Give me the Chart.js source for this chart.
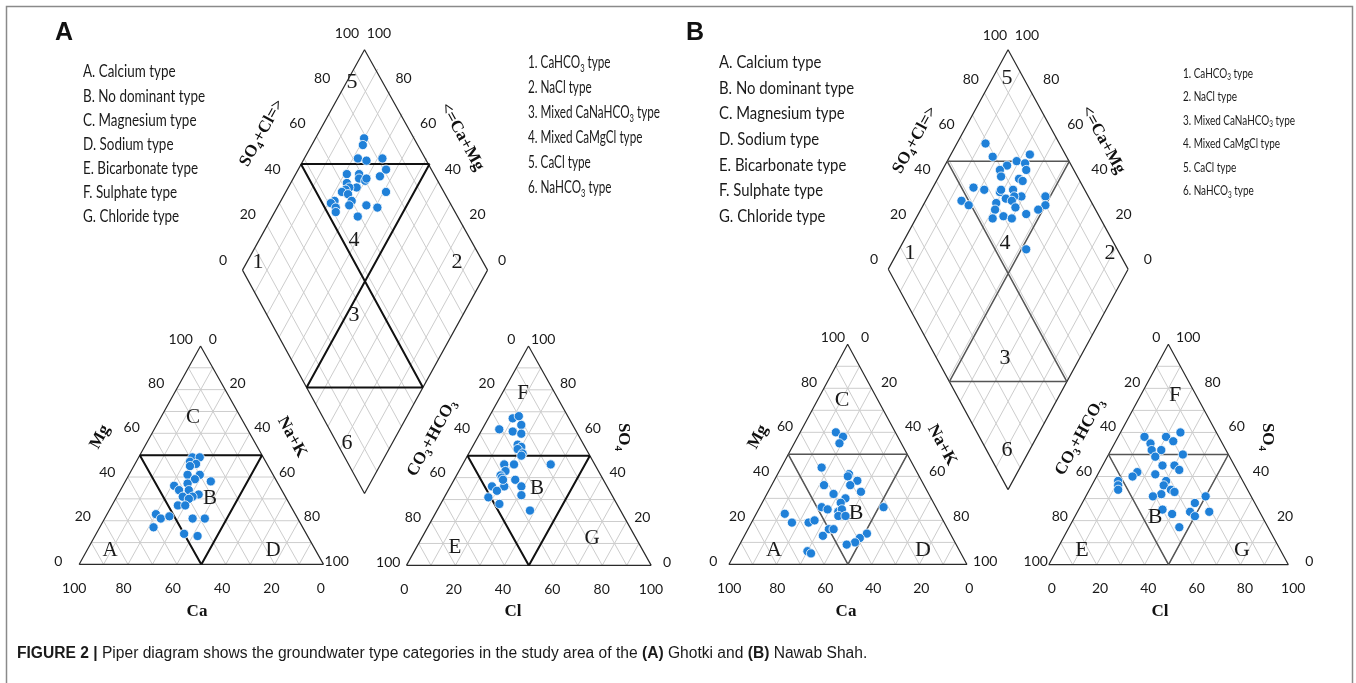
<!DOCTYPE html>
<html>
<head>
<meta charset="utf-8">
<title>Piper diagram</title>
<script src="https://cdn.jsdelivr.net/npm/chart.js@4.4.1/dist/chart.umd.min.js"></script>
<style>
  html, body { margin: 0; padding: 0; background: #fff; }
  canvas { display: block; }
</style>
</head>
<body>
<canvas id="piper" width="1356" height="683"></canvas>
<script>
// ---- values (percent) ----
// A: Ghotki
const ghotkiCa  = [29, 26, 31, 29, 32, 35, 30, 33, 37, 27, 43, 42, 38, 35, 42, 38, 40, 46, 43, 57, 56, 52, 43, 38, 61, 50, 45];
const ghotkiMg  = [49, 49, 47, 46, 45, 41, 41, 39, 37, 38, 36, 34, 34, 32, 31, 31, 30, 27, 27, 23, 21, 22, 21, 21, 17, 14, 13];
const ghotkiCl  = [10, 12, 15, 7, 13, 17, 18, 20, 19, 22, 22, 21, 17, 36, 19, 18, 19, 25, 22, 29, 17, 20, 18, 31, 24, 38, 20];
const ghotkiSO4 = [67, 68, 64, 62, 61, 60, 55, 54, 53, 51, 50, 46, 46, 46, 43, 41, 40, 39, 36, 36, 36, 34, 31, 32, 28, 25, 39];
const ghotkiSO4Cl = [79, 77, 72, 75, 82, 81, 77, 64, 69, 68, 70, 71, 62, 65, 62, 60, 58, 60, 76, 60, 53, 51, 52, 58, 65, 69, 51, 59];
const ghotkiCaMg  = [80, 79, 78, 74, 68, 64, 65, 79, 74, 73, 70, 70, 77, 72, 75, 76, 77, 74, 59, 71, 78, 79, 76, 71, 64, 59, 75, 65];

// B: Nawab Shah
const nawabCa  = [25, 23, 26, 39, 29, 30, 27, 31, 42, 28, 40, 36, 39, 48, 46, 42, 40, 43, 40, 22, 65, 64, 57, 54, 50, 48, 54, 35, 39, 42, 46, 64, 63];
const nawabMg  = [60, 58, 55, 44, 41, 40, 38, 36, 36, 33, 32, 30, 28, 26, 25, 24, 25, 22, 22, 26, 23, 19, 19, 20, 16, 16, 13, 14, 12, 10, 9, 6, 5];
const nawabCl  = [25, 11, 20, 24, 15, 17, 21, 31, 20, 25, 30, 33, 16, 15, 24, 10, 11, 12, 30, 30, 34, 36, 31, 28, 50, 47, 35, 40, 47, 50, 55, 46];
const nawabSO4 = [60, 58, 58, 56, 55, 52, 52, 50, 49, 45, 45, 43, 42, 40, 41, 38, 36, 34, 38, 36, 34, 33, 32, 31, 31, 28, 25, 23, 24, 22, 24, 17];
const nawabSO4Cl = [69, 69, 85, 73, 78, 81, 69, 80, 68, 75, 76, 54, 58, 64, 65, 70, 72, 65, 69, 46, 48, 60, 67, 82, 80, 76, 67, 58, 70, 60, 55, 63, 62];
const nawabCaMg  = [88, 82, 67, 74, 71, 67, 76, 65, 74, 66, 64, 83, 78, 71, 71, 66, 61, 67, 64, 85, 81, 70, 64, 51, 49, 51, 61, 69, 55, 64, 68, 60, 47];

const tickValues = [0, 20, 40, 60, 80, 100];
const gridSteps = [10, 20, 30, 40, 50, 60, 70, 80, 90];

const waterTypesA = ["A. Calcium type", "B. No dominant type", "C. Magnesium type", "D. Sodium type",
  "E. Bicarbonate type", "F. Sulphate type", "G. Chloride type"];
const diamondTypes = ["1. CaHCO_3 type", "2. NaCl type", "3. Mixed CaNaHCO_3 type", "4. Mixed CaMgCl type",
  "5. CaCl type", "6. NaHCO_3 type"];

// ---- layout (pixels) ----
const layoutA = {
  cation: { bl: [74.3, 568], br: [320.7, 568], top: [196.7, 346] },
  anion: { bl: [404.3, 569], br: [651, 569], top: [527.3, 346] },
  diamond: { top: [362, 45], left: [239, 269], right: [486, 269], bottom: [362, 496] },
  diamondSplit: 0.475,
  zoneColor: "#111", zoneWidth: 2,
  letterSize: 21,
  cationLetters: { C: [193, 417], B: [210, 498], A: [110, 550], D: [273, 550] },
  anionLetters: { F: [523, 393], B: [537, 488], E: [455, 547], G: [592, 538] },
  diamondNums: { 5: [352, 82], 4: [354, 240], 1: [258, 262], 2: [457, 262], 3: [354, 315], 6: [347, 443] },
  titles: {
    so4cl: [262, 133], camg: [462, 137], mg: [100, 437], nak: [292, 437], ca: [197, 612],
    co3: [432, 438], so4: [623, 437], cl: [513, 612]
  },
  panel: [55, 33],
  legendLeft: { x: 83, y: 72, step: 24.1, size: 17, width: 122 },
  legendRight: { x: 528, y: 63, step: 25, size: 17, width: 132 }
};
const layoutB = {
  cation: { bl: [729.3, 568], br: [969.3, 568], top: [849, 344.3] },
  anion: { bl: [1051.7, 568.3], br: [1293.3, 568.3], top: [1172.3, 344.3] },
  diamond: { top: [1010.7, 45], left: [890, 268], right: [1131.7, 268], bottom: [1010.7, 492] },
  diamondSplit: 0.49,
  zoneColor: "#555", zoneWidth: 1.5,
  letterSize: 22,
  cationLetters: { C: [842, 400], B: [856, 513], A: [774, 550], D: [923, 550] },
  anionLetters: { F: [1175, 395], B: [1155, 517], E: [1082, 550], G: [1242, 550] },
  diamondNums: { 5: [1007, 78], 4: [1005, 243], 1: [910, 253], 2: [1110, 253], 3: [1005, 358], 6: [1007, 450] },
  titles: {
    so4cl: [915, 140], camg: [1103, 140], mg: [758, 437], nak: [942, 445], ca: [846, 612],
    co3: [1080, 437], so4: [1267, 437], cl: [1160, 612]
  },
  panel: [686, 33],
  legendLeft: { x: 719, y: 62, step: 25.7, size: 18, width: 135 },
  legendRight: { x: 1183, y: 73, step: 23.5, size: 14, width: 112 }
};

const pointColor = "#1f80d8";

// ---- geometry helpers ----
function tern(tri, r, up) {
  return [
    tri.bl[0] + r * (tri.br[0] - tri.bl[0]) + up * (tri.top[0] - tri.bl[0]),
    tri.bl[1] + r * (tri.br[1] - tri.bl[1]) + up * (tri.top[1] - tri.bl[1])
  ];
}
function dia(d, a, k) {
  return [
    d.bottom[0] + a * (d.right[0] - d.bottom[0]) + k * (d.left[0] - d.bottom[0]),
    d.bottom[1] + a * (d.right[1] - d.bottom[1]) + k * (d.left[1] - d.bottom[1])
  ];
}
function segData(pairs) {
  const out = [];
  pairs.forEach(([p, q]) => {
    out.push({ x: p[0], y: p[1] }, { x: q[0], y: q[1] }, { x: q[0], y: null });
  });
  return out;
}

function triGrid(tri) {
  const s = [];
  gridSteps.forEach(v => {
    const f = v / 100;
    s.push([tern(tri, 0, f), tern(tri, 1 - f, f)]);
    s.push([tern(tri, f, 0), tern(tri, f, 1 - f)]);
    s.push([tern(tri, 1 - f, 0), tern(tri, 0, 1 - f)]);
  });
  return s;
}
function triOutline(tri) {
  return [[tri.bl, tri.br], [tri.br, tri.top], [tri.top, tri.bl]];
}
function triZones(tri) {
  return [
    [tern(tri, 0, 0.5), tern(tri, 0.5, 0.5)],
    [tern(tri, 0, 0.5), tern(tri, 0.5, 0)],
    [tern(tri, 0.5, 0.5), tern(tri, 0.5, 0)]
  ];
}
function diaGrid(d) {
  const s = [];
  gridSteps.forEach(v => {
    const f = v / 100;
    s.push([dia(d, f, 0), dia(d, f, 1)]);
    s.push([dia(d, 0, f), dia(d, 1, f)]);
  });
  return s;
}
function diaOutline(d) {
  return [[d.bottom, d.right], [d.right, d.top], [d.top, d.left], [d.left, d.bottom]];
}
function diaZones(d, f) {
  return [
    [dia(d, f, 1), dia(d, 1, f)],
    [dia(d, 0, f), dia(d, f, 0)],
    [dia(d, f, 1), dia(d, f, 0)],
    [dia(d, 1, f), dia(d, 0, f)]
  ];
}

function cationPoints(L, ca, mg) {
  return ca.map((c, i) => {
    const p = tern(L.cation, (100 - c - mg[i]) / 100, mg[i] / 100);
    return { x: p[0], y: p[1] };
  });
}
function anionPoints(L, cl, so4) {
  return cl.map((c, i) => {
    const p = tern(L.anion, c / 100, so4[i] / 100);
    return { x: p[0], y: p[1] };
  });
}
function diamondPoints(L, a, k) {
  return a.map((v, i) => {
    const p = dia(L.diamond, v / 100, k[i] / 100);
    return { x: p[0], y: p[1] };
  });
}

function panelDatasets(L, series) {
  const grid = [...triGrid(L.cation), ...triGrid(L.anion), ...diaGrid(L.diamond)];
  const outline = [...triOutline(L.cation), ...triOutline(L.anion), ...diaOutline(L.diamond)];
  const zones = [...triZones(L.cation), ...triZones(L.anion), ...diaZones(L.diamond, L.diamondSplit)];
  const lineDs = (data, color, width, order) => ({
    data: segData(data), showLine: true, borderColor: color, borderWidth: width,
    pointRadius: 0, spanGaps: false, order: order, clip: false
  });
  const ptDs = data => ({
    data: data, pointRadius: 4.6, pointBackgroundColor: pointColor,
    pointBorderColor: "#ffffff", pointBorderWidth: 0.8, showLine: false, order: 0, clip: false
  });
  return [
    ptDs(cationPoints(L, series.ca, series.mg)),
    ptDs(anionPoints(L, series.cl, series.so4)),
    ptDs(diamondPoints(L, series.so4cl, series.camg)),
    lineDs(zones, L.zoneColor, L.zoneWidth, 1),
    lineDs(outline, "#2a2a2a", 1.2, 2),
    lineDs(grid, "#cdcdcd", 1, 3)
  ];
}

// ---- text drawing ----
function richParts(str) {
  const parts = [];
  let buf = "";
  for (let i = 0; i < str.length; i++) {
    if (str[i] === "_" && i + 1 < str.length) {
      if (buf) parts.push({ t: buf, sub: false });
      buf = "";
      parts.push({ t: str[i + 1], sub: true });
      i++;
    } else buf += str[i];
  }
  if (buf) parts.push({ t: buf, sub: false });
  return parts;
}
function measureRich(ctx, str, o) {
  const parts = richParts(str);
  const main = `${o.weight || "normal"} ${o.size}px ${o.family}`;
  const sub = `${o.weight || "normal"} ${Math.round(o.size * 0.62)}px ${o.family}`;
  let w = 0;
  parts.forEach(p => { ctx.font = p.sub ? sub : main; p.w = ctx.measureText(p.t).width; p.font = ctx.font; w += p.w; });
  return { parts, w };
}
function drawRich(ctx, str, X, Y, o) {
  ctx.save();
  const m = measureRich(ctx, str, o);
  ctx.translate(X, Y);
  if (o.rot) ctx.rotate(o.rot * Math.PI / 180);
  const sx = o.sx || 1;
  ctx.scale(sx, 1);
  let cx = o.align === "center" ? -m.w / 2 : (o.align === "right" ? -m.w : 0);
  ctx.fillStyle = o.color || "#1a1a1a";
  ctx.textBaseline = "middle";
  ctx.textAlign = "left";
  m.parts.forEach(p => {
    ctx.font = p.font;
    ctx.fillText(p.t, cx, p.sub ? o.size * 0.3 : 0);
    cx += p.w;
  });
  ctx.restore();
}

const SANS = '"Lato", "Open Sans", sans-serif';
const SERIF = '"Liberation Serif", "DejaVu Serif", serif';

function drawPanelText(ctx, L) {
  const num = { size: 14, family: SANS, align: "center", color: "#1a1a1a" };
  // diamond ticks on the two upper edges
  tickValues.forEach(v => {
    const pl = dia(L.diamond, v / 100, 1);
    drawRich(ctx, String(v), pl[0] - 16, pl[1] - 9, num);
    const pr = dia(L.diamond, 1, v / 100);
    drawRich(ctx, String(v), pr[0] + 16, pr[1] - 9, num);
  });
  // cation ticks
  tickValues.forEach(v => {
    const f = v / 100;
    const pl = tern(L.cation, 0, f);
    drawRich(ctx, String(v), pl[0] - 16, pl[1] - 7, num);
    const pr = tern(L.cation, f, 1 - f);
    drawRich(ctx, String(v), pr[0] + 16, pr[1] - 7, num);
    const pb = tern(L.cation, 1 - f, 0);
    drawRich(ctx, String(v), pb[0], pb[1] + 20, num);
  });
  // anion ticks
  tickValues.forEach(v => {
    const f = v / 100;
    const pl = tern(L.anion, 0, 1 - f);
    drawRich(ctx, String(v), pl[0] - 16, pl[1] - 7, num);
    const pr = tern(L.anion, 1 - f, f);
    drawRich(ctx, String(v), pr[0] + 16, pr[1] - 7, num);
    const pb = tern(L.anion, f, 0);
    drawRich(ctx, String(v), pb[0], pb[1] + 20, num);
  });

  const letter = { size: L.letterSize, family: SERIF, align: "center", color: "#1a1a1a" };
  Object.entries(L.cationLetters).forEach(([t, p]) => drawRich(ctx, t, p[0], p[1], letter));
  Object.entries(L.anionLetters).forEach(([t, p]) => drawRich(ctx, t, p[0], p[1], letter));
  Object.entries(L.diamondNums).forEach(([t, p]) => drawRich(ctx, t, p[0], p[1], { ...letter, size: 22 }));

  const ttl = { size: 17, family: SERIF, weight: "bold", align: "center", color: "#111" };
  const T = L.titles;
  drawRich(ctx, "SO_4+Cl=>", T.so4cl[0], T.so4cl[1], { ...ttl, rot: -61 });
  drawRich(ctx, "<=Ca+Mg", T.camg[0], T.camg[1], { ...ttl, rot: 61 });
  drawRich(ctx, "Mg", T.mg[0], T.mg[1], { ...ttl, rot: -61 });
  drawRich(ctx, "Na+K", T.nak[0], T.nak[1], { ...ttl, rot: 61 });
  drawRich(ctx, "Ca", T.ca[0], T.ca[1], ttl);
  drawRich(ctx, "CO_3+HCO_3", T.co3[0], T.co3[1], { ...ttl, rot: -61 });
  drawRich(ctx, "SO_4", T.so4[0], T.so4[1], { ...ttl, rot: 90 });
  drawRich(ctx, "Cl", T.cl[0], T.cl[1], ttl);

  // legends, squeezed to the narrow face of the original
  const legend = (items, cfg, ref) => {
    const o = { size: cfg.size, family: SANS, align: "left", color: "#1a1a1a" };
    const sx = cfg.width / measureRich(ctx, ref, o).w;
    items.forEach((t, i) => drawRich(ctx, t, cfg.x, cfg.y + i * cfg.step, { ...o, sx }));
  };
  legend(waterTypesA, L.legendLeft, waterTypesA[1]);
  legend(diamondTypes, L.legendRight, diamondTypes[2]);

  ctx.save();
  ctx.font = 'bold 25px "Liberation Sans", Arial, sans-serif';
  ctx.fillStyle = "#111";
  ctx.textBaseline = "middle";
  ctx.fillText(L === layoutA ? "A" : "B", L.panel[0], L.panel[1]);
  ctx.restore();
}

function drawCaption(ctx) {
  const runs = [
    ["FIGURE 2 | ", true], ["Piper diagram shows the groundwater type categories in the study area of the ", false],
    ["(A)", true], [" Ghotki and ", false], ["(B)", true], [" Nawab Shah.", false]
  ];
  ctx.save();
  ctx.textBaseline = "middle";
  ctx.fillStyle = "#1a1a1a";
  let x = 17;
  runs.forEach(([t, b]) => {
    ctx.font = `${b ? "bold " : ""}15.6px "Liberation Sans", Arial, sans-serif`;
    ctx.fillText(t, x, 654);
    x += ctx.measureText(t).width;
  });
  ctx.restore();
}

const textPlugin = {
  id: "piperText",
  beforeDraw(chart) {
    const ctx = chart.ctx;
    ctx.save();
    ctx.fillStyle = "#fff";
    ctx.fillRect(0, 0, chart.width, chart.height);
    ctx.strokeStyle = "#8a8a8a";
    ctx.lineWidth = 1.5;
    ctx.strokeRect(6.5, 6.5, 1346, 700);
    ctx.restore();
  },
  afterDatasetsDraw(chart) {
    const ctx = chart.ctx;
    drawPanelText(ctx, layoutA);
    drawPanelText(ctx, layoutB);
    drawCaption(ctx);
  }
};

const datasets = [
  ...panelDatasets(layoutA, { ca: ghotkiCa, mg: ghotkiMg, cl: ghotkiCl, so4: ghotkiSO4, so4cl: ghotkiSO4Cl, camg: ghotkiCaMg }),
  ...panelDatasets(layoutB, { ca: nawabCa, mg: nawabMg, cl: nawabCl, so4: nawabSO4, so4cl: nawabSO4Cl, camg: nawabCaMg })
];

new Chart(document.getElementById("piper"), {
  type: "scatter",
  data: { datasets },
  options: {
    responsive: false,
    animation: false,
    layout: { padding: 0 },
    plugins: { legend: { display: false }, tooltip: { enabled: false } },
    scales: {
      x: { type: "linear", min: 0, max: 1356, display: false },
      y: { type: "linear", min: 0, max: 683, reverse: true, display: false }
    }
  },
  plugins: [textPlugin]
});
</script>
</body>
</html>
